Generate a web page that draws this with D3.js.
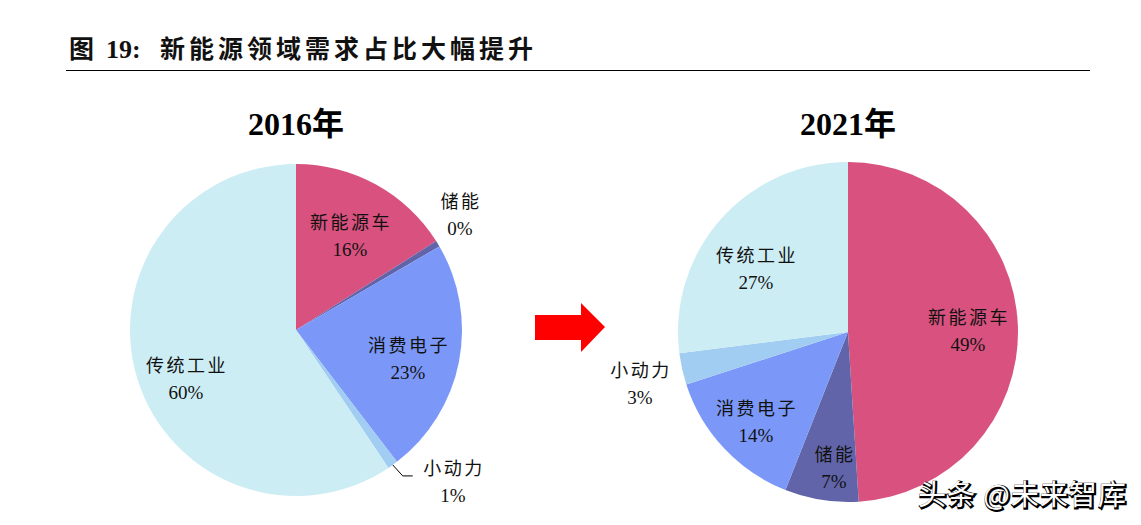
<!DOCTYPE html>
<html><head><meta charset="utf-8">
<script src="https://cdn.jsdelivr.net/npm/d3@7"></script>
<style>body{margin:0;background:#fff}svg{display:block}</style>
</head><body>
<svg id="c" width="1141" height="525"></svg>
<script>
const categories = ["新能源车","储能","消费电子","小动力","传统工业"];
const colors = ["#D9527F","#6164A8","#7B98F8","#A2CDF2","#CDEDF4"];
const values2016 = [16, 0.6, 23, 1, 59.4];
const labels2016 = ["16%","0%","23%","1%","60%"];
const values2021 = [49, 7, 14, 3, 27];
const labels2021 = ["49%","7%","14%","3%","27%"];
const years = ["2016年","2021年"];

const svg = d3.select("#c");
const serif = "'Liberation Serif','Noto Sans CJK SC',serif";

// Title
const title = svg.append("text").attr("y",58)
  .attr("font-family",serif).attr("font-size",25).attr("font-weight","bold").attr("fill","#111");
title.append("tspan").attr("x",69).text("图");
title.append("tspan").attr("x",106).attr("font-size",26).text("19:");
title.append("tspan").attr("x",160).attr("letter-spacing",4).text("新能源领域需求占比大幅提升");
svg.append("line").attr("x1",66).attr("x2",1090).attr("y1",70.5).attr("y2",70.5)
  .attr("stroke","#000").attr("stroke-width",1);

function drawPie(cx, cy, r, values, labels, year, labelPos){
  const g = svg.append("g").attr("transform",`translate(${cx},${cy})`);
  const pie = d3.pie().sort(null).value(d=>d)(values);
  const arc = d3.arc().innerRadius(0).outerRadius(r);
  g.selectAll("path").data(pie).join("path")
    .attr("d",arc).attr("fill",(d,i)=>colors[i]);
  svg.append("text").attr("x",cx).attr("y",135).attr("text-anchor","middle")
    .attr("font-family",serif).attr("font-size",32).attr("font-weight","bold").text(year);
  categories.forEach((c,i)=>{
    const p = labelPos[i];
    const t = svg.append("text").attr("text-anchor","middle")
      .attr("font-family",serif).attr("font-size",18).attr("fill","#111");
    t.append("tspan").attr("x",p[0]+1).attr("y",p[1]).attr("letter-spacing",2.5).text(c);
    t.append("tspan").attr("x",p[0]).attr("y",p[1]+27).attr("font-size",19).text(labels[i]);
  });
  return {g, pie, arc};
}

const left = drawPie(296, 330, 166, values2016, labels2016, years[0],
  [[350,229],[460,208],[408,352],[453,475],[186,372]]);
// leader line for 小动力 (2016)
{
  const d = left.pie[3];
  const a = (d.startAngle + d.endAngle)/2;
  const x0 = 296 + Math.sin(a)*166, y0 = 330 - Math.cos(a)*166;
  svg.append("polyline").attr("points",`${x0},${y0} ${x0+10},${y0+11} ${x0+20},${y0+11}`)
    .attr("fill","none").attr("stroke","#000").attr("stroke-width",1);
}
drawPie(848, 332, 170, values2021, labels2021, years[1],
  [[968,324],[834,461],[756,415],[640,377],[756,262]]);

// Arrow
svg.append("path").attr("d","M535,315 L581,315 L581,303 L605,327 L581,352 L581,340 L535,340 Z")
  .attr("fill","#FF0000");

// Watermark
const wm = svg.append("g").attr("font-family","'Noto Sans CJK SC',sans-serif").attr("font-size",28).attr("letter-spacing",1);
wm.append("text").attr("x",919).attr("y",506).attr("fill","#000").attr("stroke","#000").attr("stroke-width",2.5).text("头条 @未来智库");
wm.append("text").attr("x",918).attr("y",505).attr("fill","#fff").text("头条 @未来智库");
</script>
</body></html>
